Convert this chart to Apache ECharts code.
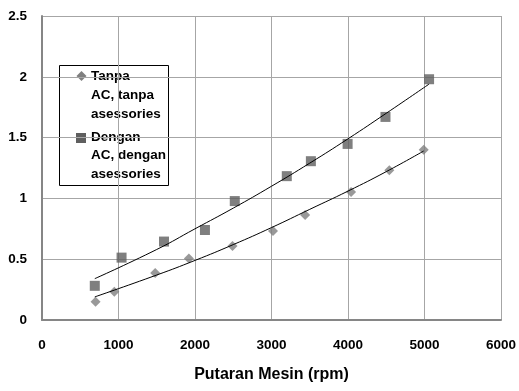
<!DOCTYPE html>
<html>
<head>
<meta charset="utf-8">
<script src="https://cdn.jsdelivr.net/npm/echarts@6/dist/echarts.min.js"></script>
<style>
  html, body { margin: 0; padding: 0; background: #fff; }
  #chart { width: 519px; height: 391px; }
</style>
</head>
<body>
<div id="chart"></div>
<script>
// Engine speed (rpm) and measured values for both conditions
const rpmTanpa = [700, 945, 1480, 1920, 2490, 3020, 3440, 4040, 4540, 4990];
const valTanpa = [0.15, 0.233, 0.387, 0.506, 0.608, 0.731, 0.863, 1.052, 1.232, 1.40];

const rpmDengan = [690, 1040, 1595, 2130, 2520, 3200, 3515, 3995, 4490, 5060];
const valDengan = [0.281, 0.513, 0.645, 0.74, 0.978, 1.183, 1.306, 1.448, 1.67, 1.98];

// Trend curves through each group
const trendRpmTanpa = [690, 1500, 2000, 2500, 3000, 3500, 4000, 4500, 4990];
const trendValTanpa = [0.19, 0.37, 0.49, 0.62, 0.76, 0.91, 1.06, 1.22, 1.39];

const trendRpmDengan = [690, 1500, 2000, 2500, 3000, 3500, 4000, 4500, 5060];
const trendValDengan = [0.34, 0.58, 0.75, 0.92, 1.10, 1.29, 1.49, 1.70, 1.94];

const xTicks = [0, 1000, 2000, 3000, 4000, 5000, 6000];
const yTicks = [0, 0.5, 1, 1.5, 2, 2.5];

const legendTanpa = ['Tanpa', 'AC, tanpa', 'asessories'];
const legendDengan = ['Dengan', 'AC, dengan', 'asessories'];
const xTitle = 'Putaran Mesin (rpm)';

const pairs = (xs, ys) => xs.map((x, i) => [x, ys[i]]);

const FONT = '"Liberation Sans", Arial, sans-serif';
const colTanpa = '#7f7f7f';
const colDengan = '#5f5f5f';

const chart = echarts.init(document.getElementById('chart'), null, { renderer: 'canvas' });

chart.setOption({
  animation: false,
  backgroundColor: '#ffffff',
  grid: { left: 42, right: 17, top: 16, bottom: 71, containLabel: false },
  xAxis: {
    type: 'value',
    min: xTicks[0],
    max: xTicks[xTicks.length - 1],
    interval: xTicks[1] - xTicks[0],
    name: xTitle,
    nameLocation: 'middle',
    nameGap: 47,
    nameTextStyle: { fontFamily: FONT, fontWeight: 'bold', fontSize: 16, color: '#000' },
    axisLine: { show: true, onZero: false, lineStyle: { color: '#868686', width: 2 } },
    axisTick: { show: false },
    axisLabel: { margin: 18, fontFamily: FONT, fontWeight: 'bold', fontSize: 13.5, color: '#000',
                 formatter: v => String(v) },
    splitLine: { show: true, lineStyle: { color: '#a6a6a6', width: 1 } }
  },
  yAxis: {
    type: 'value',
    min: yTicks[0],
    max: yTicks[yTicks.length - 1],
    interval: yTicks[1] - yTicks[0],
    axisLine: { show: true, onZero: false, lineStyle: { color: '#868686', width: 2 } },
    axisTick: { show: false },
    axisLabel: { margin: 15, fontFamily: FONT, fontWeight: 'bold', fontSize: 13.5, color: '#000',
                 formatter: v => String(v) },
    splitLine: { show: true, lineStyle: { color: '#a6a6a6', width: 1 } }
  },
  series: [
    {
      name: 'Tanpa AC, tanpa asessories',
      type: 'scatter',
      symbol: 'diamond',
      symbolSize: [10, 10],
      itemStyle: { color: colTanpa },
      data: pairs(rpmTanpa, valTanpa),
      z: 3
    },
    {
      name: 'Dengan AC, dengan asessories',
      type: 'scatter',
      symbol: 'rect',
      symbolSize: 10,
      itemStyle: { color: colDengan },
      data: pairs(rpmDengan, valDengan),
      z: 3
    },
    {
      type: 'line',
      smooth: true,
      showSymbol: false,
      lineStyle: { color: '#000', width: 1 },
      data: pairs(trendRpmTanpa, trendValTanpa),
      z: 4,
      silent: true
    },
    {
      type: 'line',
      smooth: true,
      showSymbol: false,
      lineStyle: { color: '#000', width: 1 },
      data: pairs(trendRpmDengan, trendValDengan),
      z: 4,
      silent: true
    }
  ],
  graphic: [
    {
      type: 'group',
      left: 59,
      top: 65,
      z: 10,
      children: [
        { type: 'rect', shape: { x: 0.5, y: 0.5, width: 109, height: 120 },
          style: { fill: '#fff', stroke: '#000', lineWidth: 1 } },
        { type: 'polygon', shape: { points: [[22.5, 6], [27.5, 11], [22.5, 16], [17.5, 11]] },
          style: { fill: colTanpa } },
        { type: 'text', left: 32, top: 2,
          style: { text: legendTanpa.join('\n'), fontFamily: FONT, fontWeight: 'bold',
                   fontSize: 13.5, lineHeight: 19, fill: '#000' } },
        { type: 'rect', shape: { x: 17, y: 68, width: 10, height: 10 },
          style: { fill: colDengan } },
        { type: 'text', left: 32, top: 63,
          style: { text: legendDengan.join('\n'), fontFamily: FONT, fontWeight: 'bold',
                   fontSize: 13.5, lineHeight: 18.5, fill: '#000' } }
      ]
    }
  ]
});
</script>
</body>
</html>
